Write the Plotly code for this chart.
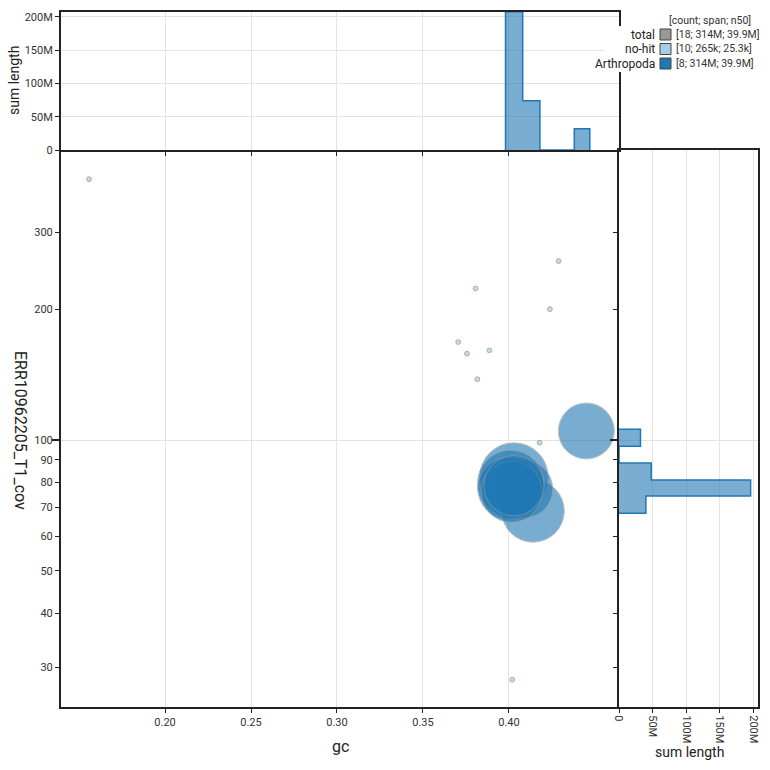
import plotly.graph_objects as go

# ---------------- data ----------------
arth_gc = [0.445, 0.4029, 0.414, 0.4087, 0.4010, 0.4000, 0.4015, 0.4030]
arth_cov = [104.9, 82.2, 68.7, 77.1, 79.5, 77.5, 76.0, 78.5]
arth_len = [32.0e6, 48.0e6, 40.0e6, 34.0e6, 45.0e6, 39.9e6, 38.0e6, 37.1e6]

nohit_gc = [0.1558, 0.3806, 0.4289, 0.4238, 0.3705, 0.3756, 0.3886, 0.3816, 0.4178, 0.4019]
nohit_cov = [398, 223, 258, 200, 168, 158, 160.7, 138, 98.6, 28.1]
nohit_len = [36e3, 34e3, 30e3, 27e3, 25.3e3, 25e3, 24e3, 23e3, 21.7e3, 19e3]

gc_bin_edges = [0.398, 0.408, 0.418, 0.428, 0.438, 0.447]
gc_bin_sums = [208e6, 74e6, 0, 0, 32e6]

cov_bin_edges = [67.9, 74.3, 80.9, 88.5, 96.8, 105.9]
cov_bin_sums = [40e6, 196e6, 48e6, 0, 32e6]

x_ticks = [0.20, 0.25, 0.30, 0.35, 0.40]
x_ticklabels = ["0.20", "0.25", "0.30", "0.35", "0.40"]
y_ticks = [30, 40, 50, 60, 70, 80, 90, 100, 200, 300]
y_ticklabels = ["30", "40", "50", "60", "70", "80", "90", "100", "200", "300"]
len_ticks = [0, 50e6, 100e6, 150e6, 200e6]
len_ticklabels = ["0", "50M", "100M", "150M", "200M"]

x_title = "gc"
y_title = "ERR10962205_T1_cov"
hist_title = "sum length"

legend_names = ["total", "no-hit", "Arthropoda"]
legend_stats = ["[18; 314M; 39.9M]", "[10; 265k; 25.3k]", "[8; 314M; 39.9M]"]
legend_colors = ["#999999", "#a6cee3", "#1f78b4"]
legend_header = "[count; span; n50]"

# ---------------- style ----------------
W = H = 770
FONT = "Roboto"
ARTH = "#1f78b4"
NOHIT = "#a6cee3"
GRID = "#e3e3e3"
AX = "#222222"

def px_x(p):
    return p / W

def px_y(p):
    return 1 - p / H

main_x = [px_x(61), px_x(619)]
main_y = [px_y(707), px_y(150)]
top_y = [px_y(150), px_y(12)]
right_x = [px_x(619), px_x(758)]

# bubble radius: 32M -> ~28px
sizeref = 32e6 / (2 * 28 ** 2)

def step_poly(edges, vals):
    a, b = [edges[0]], [0]
    for i, v in enumerate(vals):
        a += [edges[i], edges[i + 1]]
        b += [v, v]
    a.append(edges[-1])
    b.append(0)
    return a, b

fig = go.Figure()

fig.add_trace(go.Scatter(
    x=nohit_gc, y=nohit_cov, mode="markers", xaxis="x", yaxis="y",
    marker=dict(size=nohit_len, sizemode="area", sizeref=sizeref, sizemin=2.4,
                color=NOHIT, opacity=0.7, line=dict(color="#8a8a8a", width=1)),
    showlegend=False, hoverinfo="skip"))

fig.add_trace(go.Scatter(
    x=arth_gc, y=arth_cov, mode="markers", xaxis="x", yaxis="y",
    marker=dict(size=arth_len, sizemode="area", sizeref=sizeref, sizemin=2.4,
                color=ARTH, opacity=0.6, line=dict(color="#999999", width=1)),
    showlegend=False, hoverinfo="skip"))

tx, ty = step_poly(gc_bin_edges, gc_bin_sums)
fig.add_trace(go.Scatter(
    x=tx, y=ty, mode="lines", xaxis="x2", yaxis="y2", fill="toself",
    fillcolor="rgba(31,120,180,0.6)", line=dict(color=ARTH, width=1.5),
    showlegend=False, hoverinfo="skip"))

ry, rx = step_poly(cov_bin_edges, cov_bin_sums)
fig.add_trace(go.Scatter(
    x=rx, y=ry, mode="lines", xaxis="x3", yaxis="y3", fill="toself",
    fillcolor="rgba(31,120,180,0.6)", line=dict(color=ARTH, width=1.5),
    showlegend=False, hoverinfo="skip"))

tickfont = dict(family=FONT, size=11, color="#333")
common = dict(showline=True, linecolor=AX, linewidth=2, ticks="outside",
              tickcolor=AX, ticklen=4, tickwidth=1, gridcolor=GRID, zeroline=False,
              tickfont=tickfont, automargin=False)
minor100 = dict(tickvals=[100], showgrid=True, gridcolor=GRID, ticks="outside",
                ticklen=7, tickcolor=AX, tickwidth=2)

fig.update_layout(
    width=W, height=H, margin=dict(l=0, r=0, t=0, b=0, autoexpand=False),
    paper_bgcolor="white", plot_bgcolor="white",
    font=dict(family=FONT, color="#222"),
    xaxis=dict(domain=main_x, anchor="y", range=[0.1395, 0.464], mirror=False,
               tickvals=x_ticks, ticktext=x_ticklabels, showgrid=True, **common),
    yaxis=dict(domain=main_y, anchor="x", type="log", range=[1.386, 2.667], mirror=False,
               tickvals=y_ticks, ticktext=y_ticklabels, showgrid=False,
               minor=minor100, **common),
    xaxis2=dict(domain=main_x, anchor="y2", matches="x", range=[0.1395, 0.464], mirror=True,
                tickvals=x_ticks, showticklabels=False, showgrid=True, **common),
    yaxis2=dict(domain=top_y, anchor="x2", range=[0, 207.5e6], mirror=True,
                tickvals=len_ticks, ticktext=len_ticklabels, showgrid=True, **common),
    xaxis3=dict(domain=right_x, anchor="y3", range=[0, 207e6], mirror=True,
                tickvals=len_ticks, ticktext=len_ticklabels, tickangle=90, showgrid=True,
                **common),
    yaxis3=dict(domain=main_y, anchor="x3", type="log", matches="y", range=[1.386, 2.667],
                mirror=True, tickvals=y_ticks, showticklabels=False, showgrid=False,
                minor=minor100, **common),
)

# axis titles
title_font = dict(family=FONT, size=16, color="#222")
fig.add_annotation(x=px_x(340), y=px_y(746), xref="paper", yref="paper", text=x_title,
                   showarrow=False, xanchor="center", yanchor="middle", font=title_font)
fig.add_annotation(x=px_x(21), y=px_y(430), xref="paper", yref="paper", text=y_title,
                   showarrow=False, xanchor="center", yanchor="middle", textangle=90,
                   font=title_font)
fig.add_annotation(x=px_x(14), y=px_y(81), xref="paper", yref="paper", text=hist_title,
                   showarrow=False, xanchor="center", yanchor="middle", textangle=-90,
                   font=dict(family=FONT, size=14, color="#222"))
fig.add_annotation(x=px_x(689), y=px_y(752), xref="paper", yref="paper", text=hist_title,
                   showarrow=False, xanchor="center", yanchor="middle",
                   font=dict(family=FONT, size=14, color="#222"))

# legend (built from shapes + annotations)
fig.add_shape(type="rect", xref="paper", yref="paper",
              x0=px_x(605), x1=1.0, y0=px_y(72), y1=px_y(26),
              fillcolor="white", line=dict(width=0), layer="above")
fig.add_annotation(x=px_x(710), y=px_y(20), xref="paper", yref="paper",
                   text=legend_header, showarrow=False, xanchor="center", yanchor="middle",
                   font=dict(family=FONT, size=10.5, color="#333"))
for i, (n, s, c) in enumerate(zip(legend_names, legend_stats, legend_colors)):
    yc = 34.5 + 14.5 * i
    fig.add_shape(type="rect", xref="paper", yref="paper",
                  x0=px_x(660), x1=px_x(671), y0=px_y(yc + 5.5), y1=px_y(yc - 5.5),
                  fillcolor=c, line=dict(color="#444", width=1), layer="above")
    fig.add_annotation(x=px_x(657), y=px_y(yc), xref="paper", yref="paper",
                       text=n, showarrow=False, xanchor="right", yanchor="middle",
                       font=dict(family=FONT, size=12, color="#222"))
    fig.add_annotation(x=px_x(674), y=px_y(yc), xref="paper", yref="paper",
                       text=s, showarrow=False, xanchor="left", yanchor="middle",
                       font=dict(family=FONT, size=10.5, color="#333"))

fig.write_html("out.html")
